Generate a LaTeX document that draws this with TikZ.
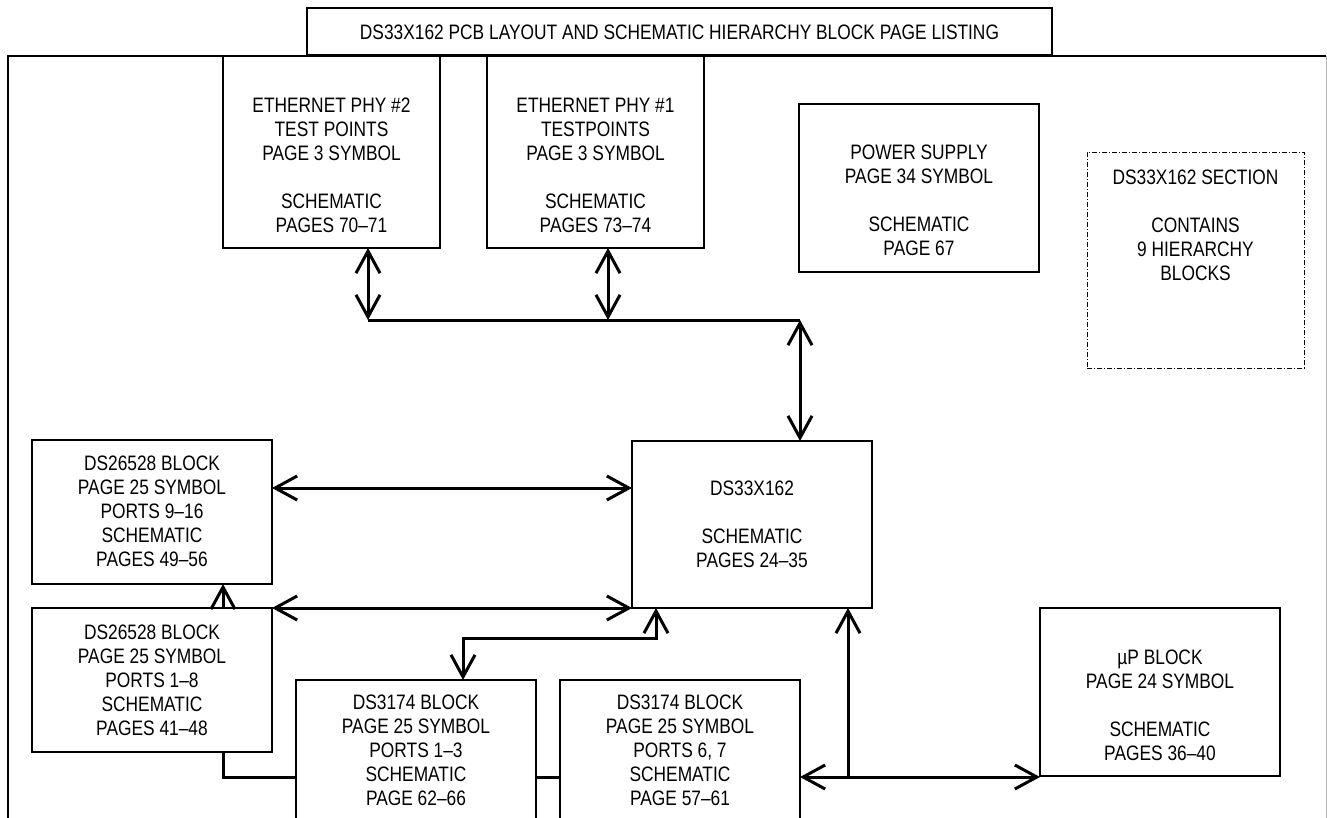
\documentclass[tikz,border=0pt]{standalone}
\usepackage{fontspec}
\setmainfont{Liberation Sans}[FakeStretch=0.83]
\usetikzlibrary{arrows.meta}
\newcommand{\lbl}{\fontsize{20.9pt}{24pt}\selectfont}
\begin{document}
\begin{tikzpicture}[x=1pt,y=-1pt,
  box/.style={draw, line width=1.1pt, inner sep=0pt, outer sep=0pt},
  txt/.style={align=center, inner sep=0pt, anchor=north, font=\lbl},
  link/.style={line width=3pt},
  dbl/.style={link, {Straight Barb[length=22pt,width=24pt]}-{Straight Barb[length=22pt,width=24pt]}},
  sgl/.style={link, -{Straight Barb[length=22pt,width=24pt]}},
  frame/.style={line width=2pt}]
\useasboundingbox (0,0) rectangle (1327,818);
\fill[white] (0,0) rectangle (1327,818);
% frame
\draw[gray!60, line width=1pt] (1326,56) -- (1326,830);
\draw[frame] (8,830) -- (8,56) -- (1326,56);
% title
\node[box, line width=2pt, minimum width=745pt, minimum height=47pt] (title) at (679.5,31.5) {};
\node[txt] (title-t) at (679.5,25) {DS33X162 PCB LAYOUT AND SCHEMATIC HIERARCHY BLOCK PAGE LISTING};
% boxes
\node[box, minimum width=217pt, minimum height=192pt] (phy2) at (331.5,152) {};
\node[txt] (phy2-t) at (331.5,98) {ETHERNET PHY \#2\\TEST POINTS\\PAGE 3 SYMBOL\\[24pt]SCHEMATIC\\PAGES 70–71};
\node[box, minimum width=217pt, minimum height=192pt] (phy1) at (595.5,152) {};
\node[txt] (phy1-t) at (595.5,98) {ETHERNET PHY \#1\\TESTPOINTS\\PAGE 3 SYMBOL\\[24pt]SCHEMATIC\\PAGES 73–74};
\node[box, minimum width=240pt, minimum height=168pt] (ps) at (919,188) {};
\node[txt] (ps-t) at (919,145) {POWER SUPPLY\\PAGE 34 SYMBOL\\[24pt]SCHEMATIC\\PAGE 67};
\node[box, line width=0.9pt, dash pattern=on 5pt off 2pt on 1pt off 2pt, minimum width=217pt, minimum height=216pt] (sec) at (1195.5,260) {};
\node[txt] (sec-t) at (1195.5,170) {DS33X162 SECTION\\[24pt]CONTAINS\\9 HIERARCHY\\BLOCKS};
\node[box, minimum width=240pt, minimum height=167pt] (core) at (752,524.5) {};
\node[txt] (core-t) at (752,481) {DS33X162\\[24pt]SCHEMATIC\\PAGES 24–35};
\node[box, minimum width=240pt, minimum height=144pt] (ds2a) at (152,512) {};
\node[txt] (ds2a-t) at (152,456) {DS26528 BLOCK\\PAGE 25 SYMBOL\\PORTS 9–16\\SCHEMATIC\\PAGES 49–56};
\node[box, minimum width=240pt, minimum height=144pt] (ds2b) at (152,680) {};
\node[txt] (ds2b-t) at (152,625) {DS26528 BLOCK\\PAGE 25 SYMBOL\\PORTS 1–8\\SCHEMATIC\\PAGES 41–48};
\node[box, minimum width=240pt, minimum height=160pt] (ds3a) at (416,760) {};
\node[txt] (ds3a-t) at (416,695) {DS3174 BLOCK\\PAGE 25 SYMBOL\\PORTS 1–3\\SCHEMATIC\\PAGE 62–66};
\node[box, minimum width=240pt, minimum height=160pt] (ds3b) at (680,760) {};
\node[txt] (ds3b-t) at (680,695) {DS3174 BLOCK\\PAGE 25 SYMBOL\\PORTS 6, 7\\SCHEMATIC\\PAGE 57–61};
\node[box, minimum width=240pt, minimum height=168pt] (up) at (1160,692) {};
\node[txt] (up-t) at (1160,650) {µP BLOCK\\PAGE 24 SYMBOL\\[24pt]SCHEMATIC\\PAGES 36–40};
% connectors
\coordinate (b2) at (368,320);
\coordinate (b1) at (608,320);
\coordinate (b3) at (800,320);
\draw[link] (b2) -- (b3);
\draw[dbl] (phy2.south -| b2) -- (b2);
\draw[dbl] (phy1.south -| b1) -- (b1);
\draw[dbl] (b3) -- (core.north -| b3);
\coordinate (r1) at (0,488);
\draw[dbl] (ds2a.east |- r1) -- (core.west |- r1);
\draw[dbl] (ds2b.north east) -- (core.south west);
\coordinate (c7) at (223,0);
\draw[sgl] (ds2b.north -| c7) -- (ds2a.south -| c7);
\coordinate (k1) at (463,638);
\coordinate (k2) at (656,638);
\draw[dbl] (ds3a.north -| k1) -- (k1) -- (k2) -- (core.south -| k2);
\coordinate (m) at (223,777);
\draw[link] (ds2b.south -| m) -- (m) -- (ds3a.west |- m);
\draw[link] (ds3a.east |- m) -- (ds3b.west |- m);
\draw[dbl] (ds3b.east |- m) -- (up.west |- m);
\coordinate (n) at (848,777);
\draw[sgl] (n) -- (core.south -| n);
\end{tikzpicture}
\end{document}
